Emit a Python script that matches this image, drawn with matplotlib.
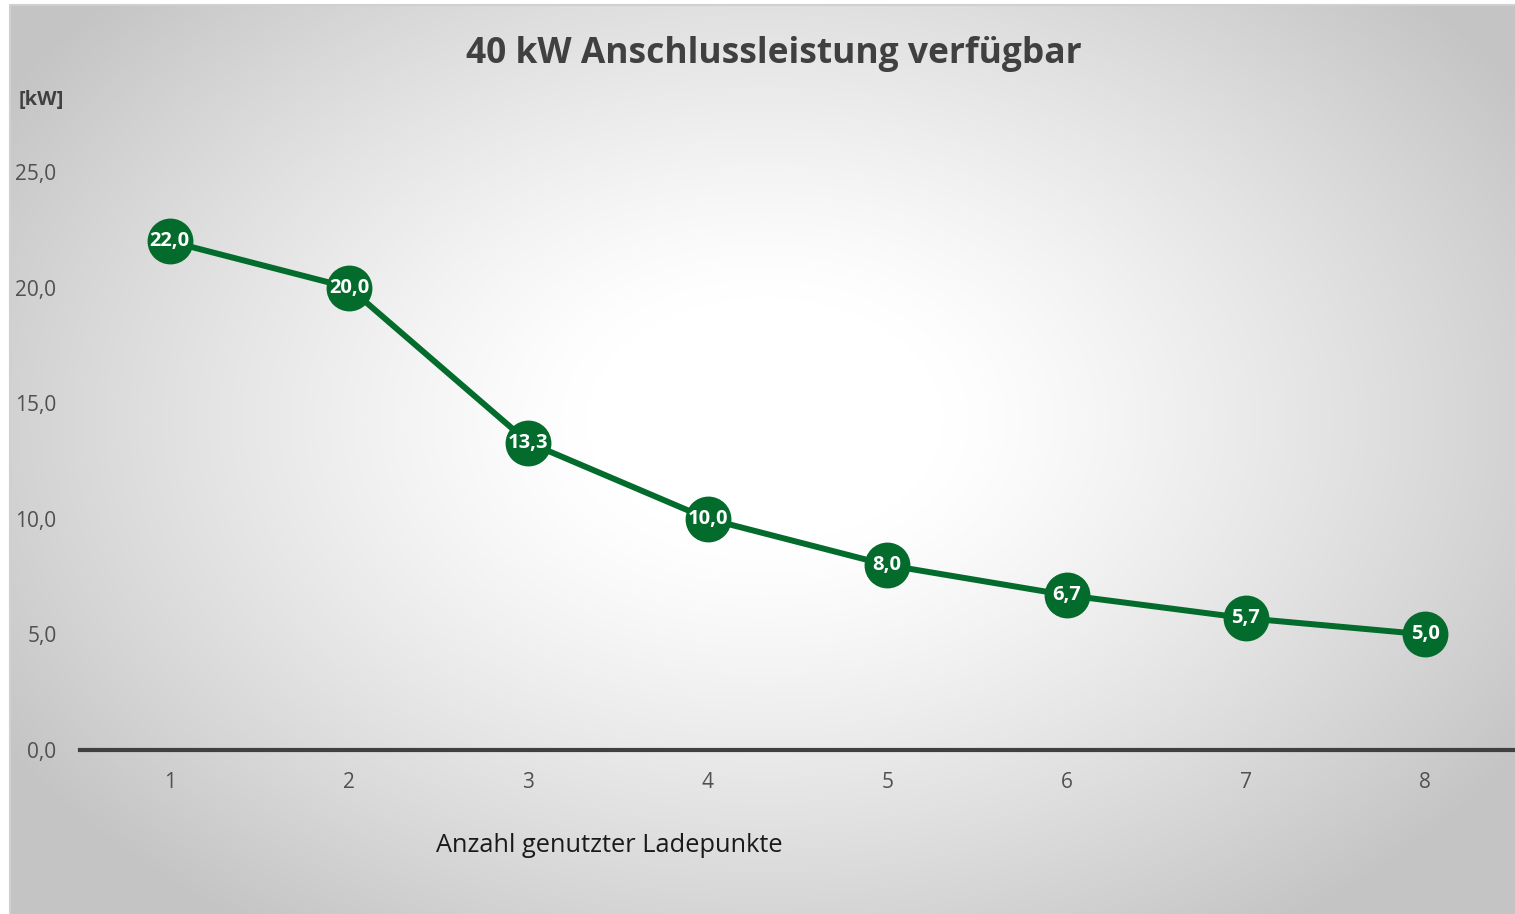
import numpy as np
import matplotlib
matplotlib.use("Agg")
import matplotlib.pyplot as plt

# Data
categories = [1, 2, 3, 4, 5, 6, 7, 8]
values = [22.0, 20.0, 13.3, 10.0, 8.0, 6.7, 5.7, 5.0]
yticks = [0, 5, 10, 15, 20, 25]
title = "40 kW Anschlussleistung verfügbar"
xlabel = "Anzahl genutzter Ladepunkte"
yunit = "[kW]"

W, H = 1515, 914
plt.rcParams['font.family'] = ['Open Sans', 'DejaVu Sans']
fig = plt.figure(figsize=(W / 100, H / 100), dpi=100)
fig.patch.set_facecolor('white')

# background chart area with radial gradient
x0, y0 = 10, 5  # pixel of chart area top-left
bg = fig.add_axes([x0 / W, 0, 1 - x0 / W, 1 - y0 / H], zorder=0)
nx, ny = 600, 360
xs = np.linspace(x0, W, nx)
ys = np.linspace(y0, H, ny)
X, Y = np.meshgrid(xs, ys)
cx, cy = 765, 420
d = np.sqrt(((X - cx) / 900) ** 2 + ((Y - cy) / 620) ** 2)
t = np.clip((d - 0.2) / 0.8, 0, 1)
val = 1.0 - 0.23 * t ** 1.2
img = np.dstack([val, val, val])
bg.imshow(img, extent=[0, 1, 0, 1], aspect='auto', origin='upper', interpolation='bilinear')
bg.set_xlim(0, 1)
bg.set_ylim(0, 1)
bg.axis('off')
bg.plot([0, 0, 1], [0, 1, 1], color='#d0d0d0', lw=1.5, transform=bg.transAxes, clip_on=False)

# main axes
left = 80 / W
right = 1515 / W
bottom = 1 - 750 / H
top = 1 - 172 / H
ax = fig.add_axes([left, bottom, right - left, top - bottom], zorder=1)
ax.patch.set_alpha(0)

green = '#036b2b'
ax.plot(categories, values, color=green, lw=4.3, zorder=2, clip_on=False,
        marker='o', markersize=32, markerfacecolor=green, markeredgecolor=green)
for xv, yv in zip(categories, values):
    ax.text(xv, yv, f"{yv:.1f}".replace('.', ','), color='white', fontsize=14.5,
            fontweight='bold', ha='center', va='center', zorder=3)

ax.set_xlim(0.5, 8.5)
ax.set_ylim(0, 25)
ax.set_xticks(categories)
ax.set_xticklabels([str(c) for c in categories])
ax.set_yticks(yticks)
ax.set_yticklabels([f"{v:.1f}".replace('.', ',') for v in yticks])
for s in ['top', 'right', 'left']:
    ax.spines[s].set_visible(False)
ax.spines['bottom'].set_color('#404040')
ax.spines['bottom'].set_linewidth(3)
ax.tick_params(axis='both', length=0, labelcolor='#505050', labelsize=15)
ax.tick_params(axis='x', pad=16)
ax.tick_params(axis='y', pad=17)

fig.text(466 / W, 1 - 54 / H, title, fontsize=25.5, fontweight='bold', color='#404040',
         ha='left', va='center')
fig.text(19 / W, 1 - 100 / H, yunit, fontsize=14.5, fontweight='bold', color='#404040',
         ha='left', va='center')
fig.text(609 / W, 1 - 845 / H, xlabel, fontsize=18.3, color='#1a1a1a', ha='center', va='center')

fig.savefig('out.png', dpi=100)
